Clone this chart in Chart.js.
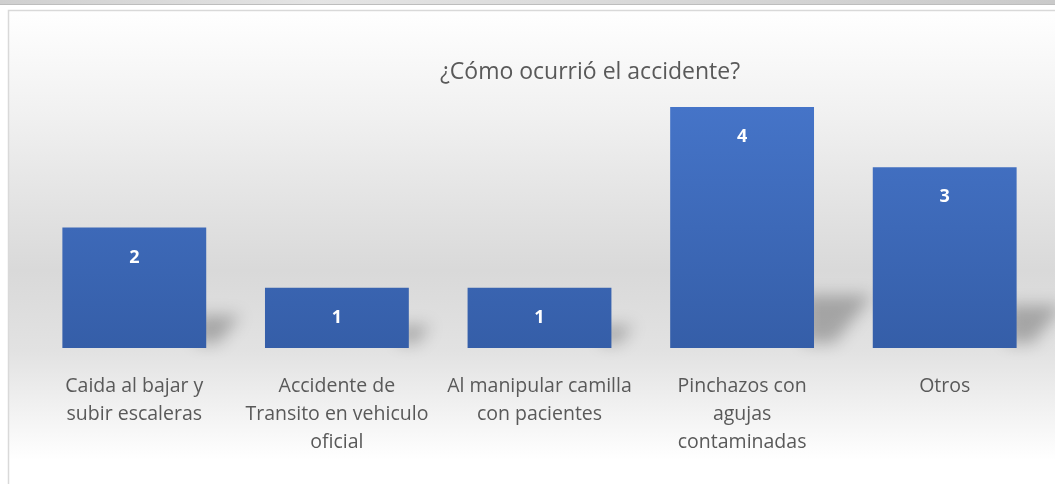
<!DOCTYPE html>
<html>
<head>
<meta charset="utf-8">
<script src="https://cdn.jsdelivr.net/npm/chart.js@4"></script>
<style>
  html, body { margin: 0; padding: 0; background: #ffffff; }
  #wrap { width: 1055px; height: 484px; position: relative; }
</style>
</head>
<body>
<div id="wrap"><canvas id="accidentChart" width="1055" height="484"></canvas></div>
<script>
// Chart data
const categories = [
  ["Caida al bajar y", "subir escaleras"],
  ["Accidente de", "Transito en vehiculo", "oficial"],
  ["Al manipular camilla", "con pacientes"],
  ["Pinchazos con", "agujas", "contaminadas"],
  ["Otros"]
];
const counts = [2, 1, 1, 4, 3];
const chartTitle = "¿Cómo ocurrió el accidente?";

const textGray = "#595959";
const labelFont = "'Open Sans', 'Liberation Sans', sans-serif";

// Background, frame and title
const backdropPlugin = {
  id: "backdrop",
  beforeDraw(chart) {
    const { ctx, width, height } = chart;
    ctx.save();
    // grey strip along the top edge
    const strip = ctx.createLinearGradient(0, 0, width, 0);
    strip.addColorStop(0, "#cfcfcf");
    strip.addColorStop(0.3, "#e4e4e4");
    strip.addColorStop(1, "#cacaca");
    ctx.fillStyle = strip;
    ctx.fillRect(0, 0, width, 4);
    ctx.fillStyle = "#bdbdbd";
    ctx.fillRect(0, 4, width, 1);

    // chart area fill
    const bg = ctx.createLinearGradient(0, 10, 0, height);
    bg.addColorStop(0, "#ffffff");
    bg.addColorStop(0.2, "#f2f2f2");
    bg.addColorStop(0.55, "#d9d9d9");
    bg.addColorStop(0.72, "#e2e2e2");
    bg.addColorStop(0.95, "#ffffff");
    ctx.fillStyle = bg;
    ctx.fillRect(9, 11, width - 9, height - 11);

    // frame
    ctx.strokeStyle = "#d9d9d9";
    ctx.lineWidth = 1.5;
    ctx.beginPath();
    ctx.moveTo(8.5, height);
    ctx.lineTo(8.5, 10.5);
    ctx.lineTo(width, 10.5);
    ctx.stroke();

    // title
    ctx.fillStyle = textGray;
    ctx.font = "23px " + labelFont;
    ctx.textAlign = "center";
    ctx.textBaseline = "middle";
    ctx.fillText(chartTitle, 590, 72);
    ctx.restore();
  },
  // soft perspective shadows behind the bars, longer for taller bars
  beforeDatasetsDraw(chart) {
    const { ctx } = chart;
    const bars = chart.getDatasetMeta(0).data;
    ctx.save();
    ctx.filter = "blur(8px)";
    ctx.fillStyle = "rgba(0,0,0,0.26)";
    bars.forEach(bar => {
      const right = bar.x + bar.width / 2;
      const bottom = bar.base;
      const h = bottom - bar.y;
      const rise = 12 + h * 0.17;
      const reach = 10 + h * 0.2;
      ctx.beginPath();
      ctx.moveTo(right - 10, bottom - rise);
      ctx.lineTo(right + reach, bottom - rise);
      ctx.lineTo(right + reach * 0.35, bottom - 5);
      ctx.lineTo(right - 10, bottom - 5);
      ctx.closePath();
      ctx.fill();
    });
    ctx.restore();
  },
  // value labels inside the top of each bar
  afterDatasetsDraw(chart) {
    const { ctx } = chart;
    const bars = chart.getDatasetMeta(0).data;
    ctx.save();
    ctx.fillStyle = "#ffffff";
    ctx.font = "bold 18px " + labelFont;
    ctx.textAlign = "center";
    ctx.textBaseline = "middle";
    bars.forEach((bar, i) => {
      ctx.fillText(String(counts[i]), bar.x, bar.y + 30);
    });
    ctx.restore();
  }
};

function barGradient(context) {
  const area = context.chart.chartArea;
  if (!area) return "#4472c4";
  const g = context.chart.ctx.createLinearGradient(0, area.top, 0, area.bottom);
  g.addColorStop(0, "#4574c8");
  g.addColorStop(1, "#355ea8");
  return g;
}

new Chart(document.getElementById("accidentChart"), {
  type: "bar",
  data: {
    labels: categories,
    datasets: [{
      data: counts,
      backgroundColor: barGradient,
      borderWidth: 0,
      categoryPercentage: 0.71,
      barPercentage: 1
    }]
  },
  options: {
    responsive: false,
    animation: false,
    events: [],
    layout: { padding: { left: 33, right: 9, top: 107, bottom: 0 } },
    plugins: {
      legend: { display: false },
      tooltip: { enabled: false },
      title: { display: false }
    },
    scales: {
      x: {
        grid: { display: false },
        border: { display: false },
        ticks: {
          color: textGray,
          font: { family: labelFont, size: 19.5, lineHeight: 1.44 },
          padding: 16,
          maxRotation: 0,
          autoSkip: false
        },
        afterFit(scale) { scale.height = 136; }
      },
      y: {
        display: false,
        min: 0,
        max: 4
      }
    }
  },
  plugins: [backdropPlugin]
});
</script>
</body>
</html>
